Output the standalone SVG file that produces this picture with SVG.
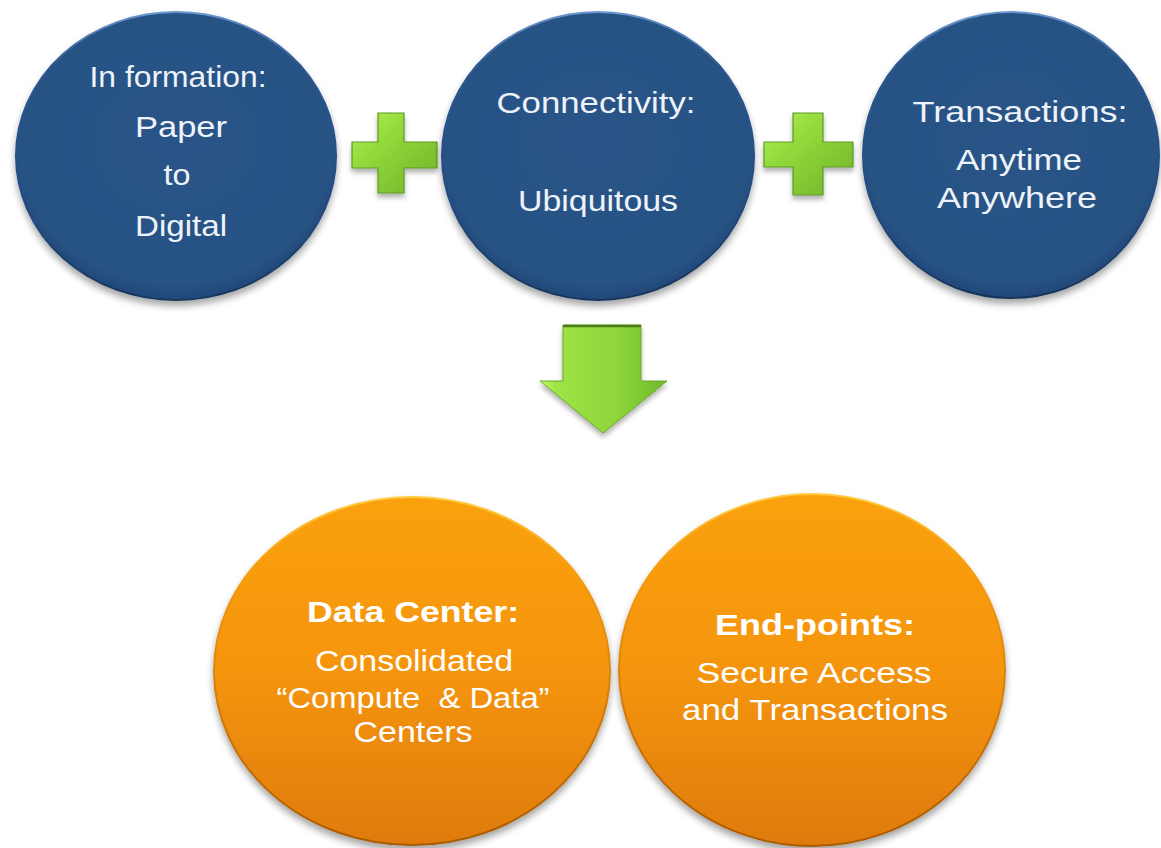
<svg xmlns="http://www.w3.org/2000/svg" width="1161" height="848" viewBox="0 0 1161 848">
  <style>
    .lbl { font-family: "Liberation Sans", Arial, sans-serif; font-size: 30px; text-anchor: middle; }
    .blue-txt { fill: #eef3fa; }
    .orange-txt { fill: #ffffff; }
    .bold { font-weight: bold; }
    .blue-disc { fill: url(#blueFill); stroke: url(#blueRim); stroke-width: 2; filter: url(#shadow); }
    .orange-disc { fill: url(#orangeFill); stroke: url(#orangeRim); stroke-width: 2; filter: url(#shadow); }
    .green-shape { fill: url(#greenFill); stroke: #5e9a22; stroke-width: 1.2; filter: url(#shadowSmall); }
  </style>
  <defs>
    <filter id="shadow" x="-10%" y="-10%" width="120%" height="125%">
      <feDropShadow dx="0" dy="5" stdDeviation="3.5" flood-color="#000" flood-opacity="0.35"/>
    </filter>
    <filter id="shadowSmall" x="-15%" y="-15%" width="130%" height="135%">
      <feDropShadow dx="0" dy="4" stdDeviation="2.5" flood-color="#000" flood-opacity="0.3"/>
    </filter>
    <radialGradient id="blueFill" cx="50%" cy="45%" r="55%">
      <stop offset="0" stop-color="#295387"/>
      <stop offset="0.9" stop-color="#285284"/>
      <stop offset="1" stop-color="#214878"/>
    </radialGradient>
    <linearGradient id="blueRim" x1="0" y1="0" x2="0" y2="1">
      <stop offset="0" stop-color="#6a96cf"/>
      <stop offset="0.18" stop-color="#2c5890"/>
      <stop offset="0.7" stop-color="#234a7c"/>
      <stop offset="1" stop-color="#17345a"/>
    </linearGradient>
    <linearGradient id="orangeFill" x1="0" y1="0" x2="0" y2="1">
      <stop offset="0" stop-color="#faa10e"/>
      <stop offset="0.5" stop-color="#f5950b"/>
      <stop offset="1" stop-color="#df7b08"/>
    </linearGradient>
    <linearGradient id="orangeRim" x1="0" y1="0" x2="0" y2="1">
      <stop offset="0" stop-color="#ffcc40"/>
      <stop offset="0.2" stop-color="#f79d0e"/>
      <stop offset="1" stop-color="#a85a05"/>
    </linearGradient>
    <linearGradient id="greenFill" x1="0" y1="0" x2="1" y2="1">
      <stop offset="0" stop-color="#b6ef5a"/>
      <stop offset="0.35" stop-color="#93db3c"/>
      <stop offset="1" stop-color="#6fb22a"/>
    </linearGradient>
    <linearGradient id="arrowFill" x1="0" y1="0" x2="1" y2="0">
      <stop offset="0" stop-color="#c9f670"/>
      <stop offset="0.12" stop-color="#9ee447"/>
      <stop offset="0.6" stop-color="#8ed63a"/>
      <stop offset="1" stop-color="#70b82a"/>
    </linearGradient>
  </defs>

  <rect width="1161" height="848" fill="#ffffff"/>

  <!-- plus signs and the down arrow joining the rows -->
  <g id="connectors">
    <path class="green-shape" d="M378,113 H404 V142 H437 V168 H404 V193 H378 V168 H352 V142 H378 Z"/>
    <path class="green-shape" d="M793,113 H823 V142 H853 V167 H823 V195 H793 V167 H764 V142 H793 Z"/>
    <path d="M563,325 H641 V381 H667 L603,433 L540,381 H563 Z" fill="url(#arrowFill)" stroke="#6aa826" stroke-width="1" filter="url(#shadowSmall)"/>
    <line x1="563" y1="326" x2="641" y2="326" stroke="#4c7d1a" stroke-width="2.5"/>
  </g>

  <g id="node-information">
    <ellipse class="blue-disc" cx="176" cy="156" rx="160" ry="144"/>
    <text class="lbl blue-txt" x="178" y="87" textLength="177" lengthAdjust="spacingAndGlyphs">In formation:</text>
    <text class="lbl blue-txt" x="181" y="137" textLength="92" lengthAdjust="spacingAndGlyphs">Paper</text>
    <text class="lbl blue-txt" x="177" y="185" textLength="27" lengthAdjust="spacingAndGlyphs">to</text>
    <text class="lbl blue-txt" x="181" y="236" textLength="92" lengthAdjust="spacingAndGlyphs">Digital</text>
  </g>

  <g id="node-connectivity">
    <ellipse class="blue-disc" cx="598" cy="156" rx="156" ry="144"/>
    <text class="lbl blue-txt" x="596" y="113" textLength="199" lengthAdjust="spacingAndGlyphs">Connectivity:</text>
    <text class="lbl blue-txt" x="598" y="211" textLength="160" lengthAdjust="spacingAndGlyphs">Ubiquitous</text>
  </g>

  <g id="node-transactions">
    <ellipse class="blue-disc" cx="1011" cy="155" rx="148" ry="143"/>
    <text class="lbl blue-txt" x="1020" y="122" textLength="215" lengthAdjust="spacingAndGlyphs">Transactions:</text>
    <text class="lbl blue-txt" x="1019" y="170" textLength="126" lengthAdjust="spacingAndGlyphs">Anytime</text>
    <text class="lbl blue-txt" x="1017" y="208" textLength="160" lengthAdjust="spacingAndGlyphs">Anywhere</text>
  </g>

  <g id="node-data-center">
    <ellipse class="orange-disc" cx="412" cy="671" rx="198" ry="174"/>
    <text class="lbl orange-txt bold" x="413" y="622" textLength="212" lengthAdjust="spacingAndGlyphs">Data Center:</text>
    <text class="lbl orange-txt" x="414" y="671" textLength="198" lengthAdjust="spacingAndGlyphs">Consolidated</text>
    <text class="lbl orange-txt" x="413" y="708" textLength="273" lengthAdjust="spacingAndGlyphs" xml:space="preserve">“Compute  &amp; Data”</text>
    <text class="lbl orange-txt" x="413" y="742" textLength="119" lengthAdjust="spacingAndGlyphs">Centers</text>
  </g>

  <g id="node-end-points">
    <ellipse class="orange-disc" cx="812" cy="670" rx="193" ry="176"/>
    <text class="lbl orange-txt bold" x="815" y="635" textLength="200" lengthAdjust="spacingAndGlyphs">End-points:</text>
    <text class="lbl orange-txt" x="814" y="683" textLength="235" lengthAdjust="spacingAndGlyphs">Secure Access</text>
    <text class="lbl orange-txt" x="815" y="720" textLength="266" lengthAdjust="spacingAndGlyphs">and Transactions</text>
  </g>
</svg>
